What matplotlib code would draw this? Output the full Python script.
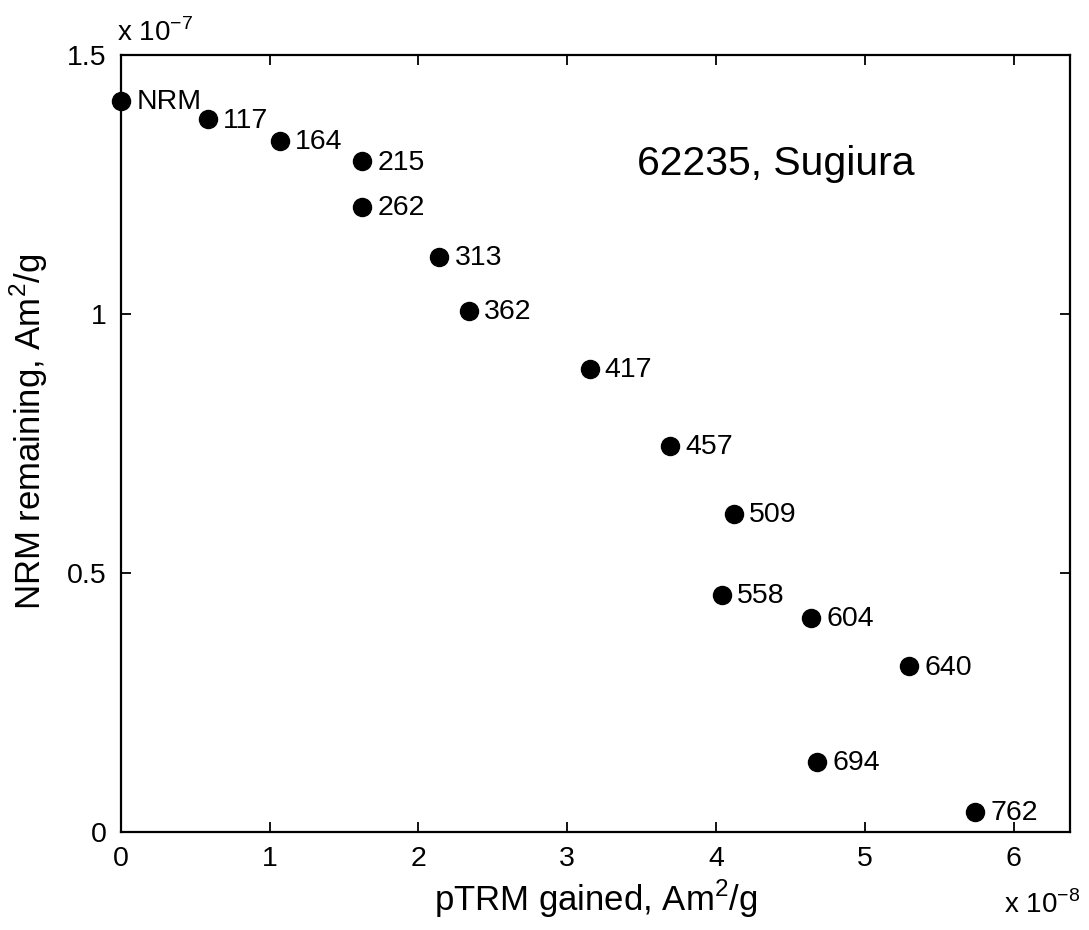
import matplotlib
matplotlib.use("Agg")
import matplotlib.pyplot as plt

plt.rcParams['font.family'] = ['Liberation Sans', 'DejaVu Sans']
plt.rcParams['mathtext.fontset'] = 'custom'
plt.rcParams['mathtext.rm'] = 'Liberation Sans'

# pTRM gained (x 1e-8 Am^2/g), NRM remaining (x 1e-7 Am^2/g)
labels = ["NRM", "117", "164", "215", "262", "313", "362", "417", "457",
          "509", "558", "604", "640", "694", "762"]
ptrm = [0.0, 0.585, 1.07, 1.62, 1.62, 2.14, 2.34, 3.15, 3.69,
        4.12, 4.04, 4.64, 5.30, 4.68, 5.74]
nrm = [1.411, 1.376, 1.334, 1.295, 1.207, 1.110, 1.006, 0.894, 0.745,
       0.614, 0.458, 0.413, 0.320, 0.135, 0.039]
xticks = [0, 1, 2, 3, 4, 5, 6]
yticks = [0, 0.5, 1, 1.5]
yticklabels = ["0", "0.5", "1", "1.5"]

fig = plt.figure(figsize=(10.89, 9.30), dpi=100)
ax = fig.add_axes([0.111, 0.1054, 0.8716, 0.8355])
ax.plot(ptrm, nrm, 'o', color='black', markersize=13, clip_on=False, zorder=3)
for lx, ly, lab in zip(ptrm, nrm, labels):
    ax.annotate(lab, (lx, ly), xytext=(11, -1), textcoords='offset points',
                fontsize=20.5, va='center', ha='left')

ax.set_xlim(0, 6.38)
ax.set_ylim(0, 1.5)
ax.set_xticks(xticks)
ax.set_xticklabels([str(t) for t in xticks])
ax.set_yticks(yticks)
ax.set_yticklabels(yticklabels)
ax.tick_params(direction='in', length=7, width=1.3, top=True, right=True,
               labelsize=20.5, pad=10)
for s in ax.spines.values():
    s.set_linewidth(1.6)

ax.set_xlabel("pTRM gained, Am$^2$/g", fontsize=25, labelpad=4)
ax.set_ylabel("NRM remaining, Am$^2$/g", fontsize=25, labelpad=9)
ax.yaxis.set_label_coords(-0.075, 0.515)

ax.text(3.47, 1.29, "62235, Sugiura", fontsize=29.5, va='center', ha='left')

fig.text(0.107, 0.965, r"x 10$^{-7}$", fontsize=20, ha='left', va='center')
fig.text(0.922, 0.027, r"x 10$^{-8}$", fontsize=20, ha='left', va='center')

fig.savefig("out.png", dpi=100)
